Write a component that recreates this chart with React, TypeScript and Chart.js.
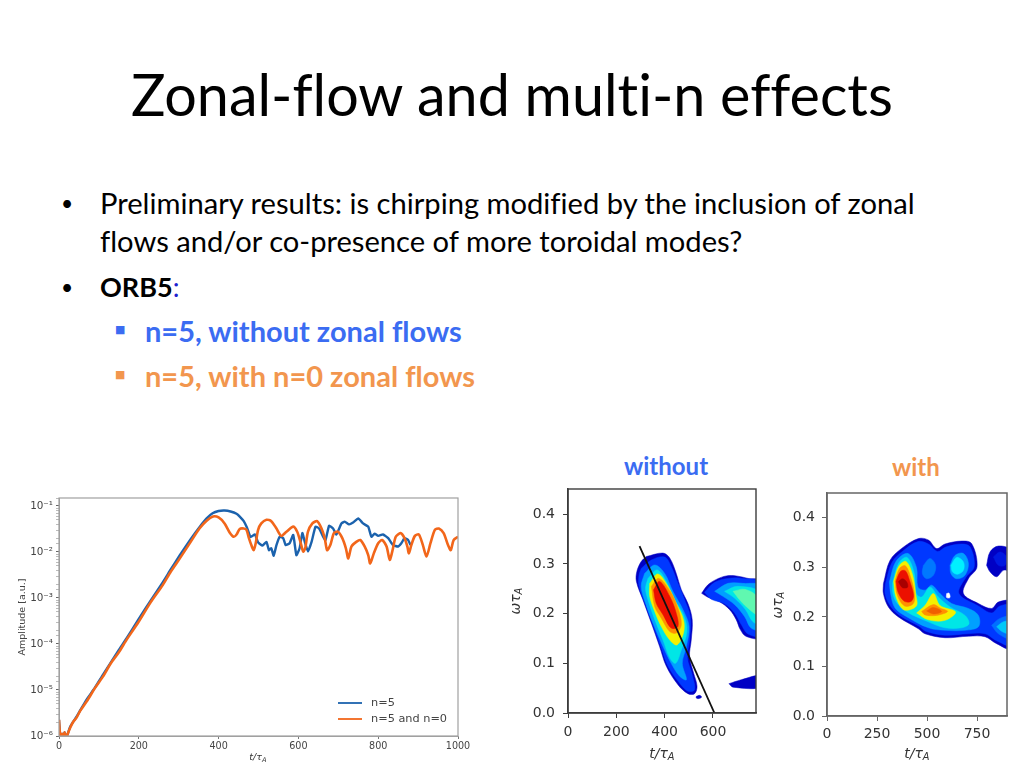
import React, { useEffect, useRef } from "react";
import { Chart, registerables } from "chart.js";

Chart.register(...registerables);

// ---------- tick labels ----------
const ampTimeTicks = [0, 200, 400, 600, 800, 1000];
const withoutTimeTicks = [0, 200, 400, 600];
const withTimeTicks = [0, 250, 500, 750];
const omegaTicks = [0, 0.1, 0.2, 0.3, 0.4];

// ---------- amplitude panel data (t/tau_A, log10 amplitude) ----------
const growthTimes = [0, 2, 5, 8, 11, 14, 18, 22, 28, 35, 44, 52, 70, 90, 110, 130, 150, 170, 198, 230, 260, 280, 302, 330, 352, 370];
const growthLogBlue = [-5.65, -5.9, -6.05, -5.95, -6.05, -5.92, -6.05, -5.95, -5.8, -5.7, -5.58, -5.46, -5.2, -4.95, -4.67, -4.4, -4.13, -3.87, -3.48, -3.05, -2.66, -2.38, -2.08, -1.72, -1.46, -1.27];
const growthLogOrange = [-5.65, -5.9, -6.05, -5.95, -6.05, -5.92, -6.05, -5.95, -5.82, -5.7, -5.6, -5.47, -5.24, -4.96, -4.71, -4.42, -4.18, -3.9, -3.54, -3.09, -2.72, -2.43, -2.15, -1.78, -1.49, -1.32];

const blueTimes = [385, 400, 415, 430, 445, 453, 463, 471, 480, 491, 499, 510, 520, 526, 532, 538, 545, 553, 562, 568, 578, 587, 595, 603, 610, 616, 624, 633, 643, 652, 662, 668, 677, 687, 695, 708, 716, 727, 737, 750, 762, 775, 783, 791, 800, 812, 825, 837, 850, 858, 866, 875, 881];
const blueLog = [-1.16, -1.11, -1.1, -1.12, -1.17, -1.23, -1.33, -1.47, -1.67, -1.62, -1.79, -1.86, -1.78, -1.96, -1.92, -2.08, -1.85, -1.67, -1.7, -1.85, -1.81, -1.63, -2.07, -1.92, -1.59, -1.78, -1.99, -1.78, -1.45, -1.49, -1.67, -1.74, -1.43, -1.49, -1.62, -1.38, -1.34, -1.4, -1.36, -1.27, -1.38, -1.45, -1.67, -1.6, -1.65, -1.62, -1.7, -1.85, -1.88, -1.81, -1.7, -1.74, -1.85];

const orangeTimes = [386, 400, 415, 428, 438, 445, 453, 463, 470, 476, 482, 488, 493, 499, 507, 520, 532, 545, 557, 570, 587, 597, 605, 612, 617, 624, 635, 647, 658, 666, 672, 680, 689, 699, 710, 719, 725, 733, 745, 755, 766, 775, 780, 789, 800, 810, 821, 829, 836, 844, 856, 866, 873, 877, 883, 892, 902, 912, 921, 931, 942, 952, 964, 975, 982, 989, 1000];
const orangeLog = [-1.23, -1.25, -1.38, -1.58, -1.67, -1.62, -1.5, -1.49, -1.52, -1.7, -1.85, -1.96, -1.81, -1.52, -1.38, -1.3, -1.33, -1.49, -1.65, -1.56, -1.45, -1.56, -1.78, -1.99, -1.92, -1.56, -1.38, -1.33, -1.49, -1.7, -1.96, -1.85, -1.59, -1.56, -1.7, -1.92, -2.14, -1.88, -1.78, -1.74, -1.88, -2.07, -2.25, -2.03, -1.81, -1.74, -1.88, -2.17, -1.96, -1.67, -1.59, -1.7, -1.88, -2.03, -1.85, -1.65, -1.62, -1.85, -2.1, -1.81, -1.52, -1.49, -1.59, -1.85, -1.96, -1.74, -1.67];

// ---------- spectrogram "without" contours (t, omega) ----------
const woMain0 = [[324,.315],[393,.322],[421,.312],[448,.281],[469,.248],[496,.221],[514,.188],[510,.147],[503,.114],[520,.08],[534,.054],[524,.039],[496,.039],[455,.057],[407,.094],[379,.134],[345,.181],[310,.228],[283,.265],[285,.285],[303,.305]];
const woMain1 = [[303,.291],[345,.308],[400,.314],[427,.295],[455,.261],[480,.231],[506,.194],[503,.147],[494,.111],[514,.077],[524,.047],[496,.044],[462,.06],[414,.094],[386,.131],[354,.174],[321,.218],[294,.255],[294,.278]];
const woMain2 = [[317,.281],[359,.298],[400,.281],[434,.245],[476,.208],[501,.174],[490,.134],[473,.1],[490,.067],[462,.074],[427,.1],[393,.134],[354,.178],[321,.221],[303,.255]];
const woMain3 = [[331,.271],[369,.288],[407,.265],[441,.228],[478,.198],[492,.164],[469,.127],[445,.1],[421,.111],[393,.147],[359,.188],[331,.228],[321,.251]];
const woMain4 = [[338,.261],[372,.28],[414,.255],[448,.221],[478,.188],[478,.161],[451,.137],[421,.147],[386,.174],[359,.204],[338,.235]];
const woMain5 = [[345,.255],[376,.271],[423,.245],[455,.211],[469,.178],[448,.161],[421,.164],[386,.191],[359,.214]];
const woMain6 = [[354,.248],[379,.265],[421,.235],[448,.201],[455,.174],[427,.171],[393,.198],[365,.221]];
const woDot = [[531,.0335],[545,.0355],[553,.032],[542,.029],[531,.03]];
const woRight0 = [[553,.241],[579,.258],[614,.269],[655,.276],[696,.276],[745,.271],[800,.265],[800,.153],[738,.154],[713,.168],[696,.188],[669,.208],[627,.224],[579,.233]];
const woRight1 = [[565,.243],[607,.263],[662,.271],[724,.271],[800,.261],[800,.157],[745,.159],[717,.178],[690,.201],[648,.22],[593,.229]];
const woRight2 = [[607,.245],[662,.261],[724,.261],[800,.255],[800,.168],[758,.171],[731,.194],[690,.218],[641,.235]];
const woRight3 = [[648,.245],[703,.255],[800,.241],[800,.178],[765,.184],[735,.208],[690,.231]];
const woRight4 = [[683,.245],[731,.249],[782,.234],[786,.198],[752,.208],[710,.228]];
const woBar = [[666,.059],[717,.067],[800,.075],[800,.052],[683,.052]];
const chirpLine = [[296,.336],[606,0]];

// ---------- spectrogram "with" contours (t, omega) ----------
const wMain0 = [[282,.267],[315,.314],[373,.338],[457,.358],[507,.355],[548,.338],[590,.347],[673,.353],[723,.348],[750,.301],[707,.277],[682,.247],[757,.227],[823,.217],[857,.23],[923,.23],[923,.136],[848,.146],[790,.16],[707,.161],[590,.158],[490,.166],[457,.176],[357,.2],[307,.22],[282,.247]];
const wMain1 = [[292,.267],[325,.31],[380,.333],[455,.352],[507,.347],[552,.332],[594,.341],[673,.347],[716,.341],[736,.301],[695,.28],[660,.247],[757,.222],[823,.208],[865,.222],[923,.222],[923,.143],[848,.152],[790,.166],[707,.166],[590,.163],[494,.171],[461,.181],[360,.204],[312,.225],[290,.247]];
const wMain2 = [[312,.271],[345,.312],[405,.328],[447,.3],[455,.26],[490,.254],[523,.264],[565,.247],[623,.227],[707,.217],[757,.203],[757,.18],[690,.173],[590,.173],[507,.178],[400,.2],[340,.218],[318,.247]];
const wSpot = [[482,.304],[515,.318],[543,.304],[532,.284],[498,.277],[477,.287]];
const wLobe2 = [[615,.304],[640,.324],[682,.328],[707,.308],[690,.284],[648,.277],[620,.287]];
const wLobe3 = [[620,.304],[648,.32],[682,.311],[682,.294],[653,.286],[627,.291]];
const wLow2 = [[823,.183],[865,.197],[923,.2],[923,.156],[857,.166]];
const wLow3 = [[848,.18],[882,.19],[923,.19],[923,.166],[877,.17]];
const wFar0 = [[798,.304],[815,.331],[857,.343],[923,.334],[923,.294],[882,.294],[848,.281],[815,.291]];
const wFar1 = [[832,.321],[865,.331],[898,.321],[890,.304],[857,.304]];
const wMain3 = [[328,.268],[358,.308],[400,.32],[436,.288],[446,.247],[473,.24],[515,.26],[557,.24],[615,.22],[690,.203],[710,.186],[673,.178],[590,.178],[507,.19],[400,.21],[350,.228],[330,.247]];
const wLeft4 = [[333,.272],[360,.303],[395,.312],[428,.285],[444,.245],[447,.222],[385,.214],[345,.24]];
const wLeft5 = [[340,.272],[363,.298],[392,.303],[420,.278],[438,.243],[430,.226],[388,.222],[352,.243]];
const wLeft6 = [[345,.272],[368,.292],[392,.293],[414,.272],[433,.243],[420,.231],[385,.232],[355,.25]];
const wLeft7 = [[357,.271],[377,.277],[398,.271],[403,.26],[377,.259]];
const wLow4 = [[448,.208],[490,.223],[532,.247],[565,.223],[643,.21],[590,.193],[507,.194]];
const wLow5 = [[473,.211],[532,.225],[565,.218],[603,.211],[548,.203],[490,.204]];
const wLow6 = [[498,.212],[532,.219],[573,.211],[532,.206]];
const wSpeck = [[598,.247],[610,.248],[615,.239],[598,.239]];

const JET = ["#0000c4", "#0038ff", "#00a0ff", "#00e6e6", "#f4f000", "#ff9000", "#ec1000", "#a80000"];
const GREEN = "#60f8b0";

const withoutLayers: [number[][], string][] = [
  [woMain0, JET[0]], [woMain1, JET[1]], [woMain2, JET[2]], [woMain3, JET[3]], [woMain4, JET[4]], [woMain5, JET[5]], [woMain6, JET[6]],
  [woDot, JET[0]], [woRight0, JET[0]], [woRight1, JET[1]], [woRight2, JET[2]], [woRight3, JET[3]], [woRight4, GREEN], [woBar, JET[0]],
];
const withLayers: [number[][], string][] = [
  [wMain0, JET[0]], [wFar0, JET[0]], [wFar1, "#0018e0"], [wMain1, JET[1]], [wSpot, "#0078ff"], [wLobe2, JET[2]], [wLobe3, "#00f0ff"],
  [wLow2, "#0070ff"], [wLow3, "#00c8f8"], [wMain2, JET[2]], [wMain3, JET[3]], [wLeft4, JET[4]], [wLeft5, JET[5]], [wLeft6, JET[6]],
  [wLeft7, JET[7]], [wLow4, JET[4]], [wLow5, JET[5]], [wLow6, "#f06000"], [wSpeck, "#ffffff"],
];

const AXIS_FONT = "'DejaVu Sans'";
const SUP: Record<string, string> = { "-": "⁻", "0": "⁰", "1": "¹", "2": "²", "3": "³", "4": "⁴", "5": "⁵", "6": "⁶" };
const toSup = (n: number) => String(n).split("").map((c) => SUP[c]).join("");

const zip = (ts: number[], ls: number[]) => ts.map((t, i) => ({ x: t, y: Math.pow(10, ls[i]) }));
const fixedTicks = (values: number[]) => (s: any) => { s.ticks = values.map((value) => ({ value })); };
const fitBox = (w: number | null, h: number | null) => (s: any) => {
  if (w !== null) s.width = w;
  if (h !== null) s.height = h;
  s.paddingTop = 0;
  s.paddingBottom = 0;
  s.paddingLeft = 0;
  s.paddingRight = 0;
};

const framePlugin = (color: string, width: number) => ({
  id: "frame",
  beforeDatasetsDraw(c: any) {
    const { ctx, chartArea: a } = c;
    ctx.save();
    ctx.beginPath();
    ctx.rect(a.left, a.top, a.right - a.left, a.bottom - a.top);
    ctx.clip();
  },
  afterDatasetsDraw(c: any) {
    const { ctx, chartArea: a } = c;
    ctx.restore();
    ctx.save();
    ctx.strokeStyle = color;
    ctx.lineWidth = width;
    ctx.strokeRect(a.left, a.top, a.right - a.left, a.bottom - a.top);
    ctx.restore();
  },
});

const mathTitle = (spec: { size: number; prefix: string; cx: number; cy: number; rotate?: boolean }[]) => ({
  id: "mathTitle",
  afterDraw(c: any) {
    const { ctx } = c;
    for (const s of spec) {
      ctx.save();
      ctx.translate(s.cx, s.cy);
      if (s.rotate) ctx.rotate(-Math.PI / 2);
      ctx.fillStyle = "#333";
      ctx.textBaseline = "middle";
      ctx.textAlign = "left";
      ctx.font = `italic ${s.size}px ${AXIS_FONT}`;
      const w1 = ctx.measureText(s.prefix).width;
      const subFont = `italic ${s.size * 0.7}px ${AXIS_FONT}`;
      ctx.fillText(s.prefix, -(w1 + s.size * 0.5) / 2, 0);
      ctx.font = subFont;
      ctx.fillText("A", -(w1 + s.size * 0.5) / 2 + w1, s.size * 0.28);
      ctx.restore();
    }
  },
});

const legendPlugin = {
  id: "cornerLegend",
  afterDraw(c: any) {
    const { ctx, chartArea: a } = c;
    ctx.save();
    ctx.font = `11.3px ${AXIS_FONT}`;
    ctx.textBaseline = "middle";
    c.data.datasets.forEach((d: any, i: number) => {
      const y = a.bottom - 33 + i * 16;
      ctx.strokeStyle = d.borderColor;
      ctx.lineWidth = 1.8;
      ctx.beginPath();
      ctx.moveTo(a.right - 120, y);
      ctx.lineTo(a.right - 96, y);
      ctx.stroke();
      ctx.fillStyle = "#444";
      ctx.fillText(d.label, a.right - 87, y);
    });
    ctx.restore();
  },
};

function contourConfig(layers: [number[][], string][], xMax: number, yMax: number, xTicks: number[], leftW: number, bottomH: number, padding: any, color: string, xPad: number, yPad: number, extra: any[], plugins: any[]) {
  const datasets: any[] = layers.map(([pts, col], i) => ({
    data: [...pts, pts[0]].map(([x, y]) => ({ x, y })),
    showLine: true,
    fill: "shape",
    backgroundColor: col,
    borderColor: col,
    borderWidth: 0.5,
    tension: 0.35,
    pointRadius: 0,
    order: -i,
  }));
  return {
    type: "scatter",
    data: { datasets: [...datasets, ...extra] },
    plugins,
    options: {
      animation: false,
      responsive: false,
      layout: { padding },
      events: [],
      plugins: { legend: { display: false }, tooltip: { enabled: false } },
      elements: { line: { capBezierPoints: false } },
      scales: {
        x: {
          type: "linear", min: 0, max: xMax,
          afterBuildTicks: fixedTicks(xTicks),
          border: { color, width: 1.5 },
          grid: { drawOnChartArea: false, tickLength: 5, tickColor: color },
          ticks: { maxRotation: 0, padding: xPad, color: "#333", font: { family: AXIS_FONT, size: 14 } },
          afterFit: fitBox(null, bottomH),
        },
        y: {
          type: "linear", min: 0, max: yMax,
          afterBuildTicks: fixedTicks(omegaTicks),
          border: { color, width: 1.5 },
          grid: { drawOnChartArea: false, tickLength: 5, tickColor: color },
          ticks: { padding: yPad, color: "#333", font: { family: AXIS_FONT, size: 14 }, callback: (v: number) => v.toFixed(1) },
          afterFit: fitBox(leftW, null),
        },
      },
    },
  };
}

function useChart(make: () => any) {
  const ref = useRef<HTMLCanvasElement>(null);
  useEffect(() => {
    const chart = new Chart(ref.current as HTMLCanvasElement, make());
    return () => chart.destroy();
  }, []);
  return ref;
}

const canvasStyle = (left: number, top: number): React.CSSProperties => ({ position: "absolute", left, top, filter: "blur(0.7px)" });

const BODY_FONT = "Lato, 'Noto Sans', sans-serif";
const BLUE = "#3b6cf2";
const ORANGE = "#f2964e";

function Txt(p: { x: number; y: number; size: number; bold?: boolean; color?: string; ls?: number; children: React.ReactNode; font?: string }) {
  return (
    <div style={{ position: "absolute", left: p.x, top: p.y, fontFamily: p.font ?? BODY_FONT, fontSize: p.size, fontWeight: p.bold ? 700 : 400, color: p.color ?? "#000", letterSpacing: p.ls ?? 0, whiteSpace: "nowrap", lineHeight: "40px", height: 40, fontVariantLigatures: "none" }}>
      {p.children}
    </div>
  );
}

export default function App() {
  const ampRef = useChart(() => ({
    type: "scatter",
    data: {
      datasets: [
        { label: "n=5", data: [...zip(growthTimes, growthLogBlue), ...zip(blueTimes, blueLog)], showLine: true, borderColor: "#1b62ad", backgroundColor: "#1b62ad", borderWidth: 2.4, pointRadius: 0, tension: 0.15, order: 1 },
        { label: "n=5 and n=0", data: [...zip(growthTimes, growthLogOrange), ...zip(orangeTimes, orangeLog)], showLine: true, borderColor: "#f2661a", backgroundColor: "#f2661a", borderWidth: 2.6, pointRadius: 0, tension: 0.25, order: 0 },
      ],
    },
    plugins: [framePlugin("#a0a0a0", 1.2), legendPlugin, mathTitle([{ size: 9.5, prefix: "t/τ", cx: 258, cy: 268 }])],
    options: {
      animation: false,
      responsive: false,
      events: [],
      layout: { padding: { top: 8, right: 22, left: 0, bottom: 0 } },
      plugins: { legend: { display: false }, tooltip: { enabled: false } },
      scales: {
        x: {
          type: "linear", min: 0, max: 1000,
          afterBuildTicks: fixedTicks(ampTimeTicks),
          border: { color: "#a0a0a0" },
          grid: { drawOnChartArea: false, tickLength: 3, tickColor: "#777" },
          ticks: { maxRotation: 0, padding: 2, color: "#444", font: { family: AXIS_FONT, size: 9.6 }, callback: (v: number) => String(v) },
          afterFit: fitBox(null, 32),
        },
        y: {
          type: "logarithmic", min: 1e-6, max: 0.149,
          border: { color: "#a0a0a0" },
          title: { display: true, text: "Amplitude [a.u.]", color: "#444", font: { family: AXIS_FONT, size: 9.5 }, padding: { top: 17, bottom: 0 } },
          grid: { drawOnChartArea: false, tickLength: 3, tickColor: (ctx: any) => (Number.isInteger(Math.round(Math.log10(ctx.tick.value) * 1000) / 1000) ? "#666" : "#bbb") },
          ticks: {
            autoSkip: false, padding: 3, color: "#444", font: { family: AXIS_FONT, size: 10.4 },
            callback: (v: number) => {
              const e = Math.log10(v);
              return Math.abs(e - Math.round(e)) < 1e-6 ? "10" + toSup(Math.round(e)) : "";
            },
          },
          afterFit: fitBox(59, null),
        },
      },
    },
  }));

  const withoutRef = useChart(() =>
    contourConfig(withoutLayers, 778, 0.451, withoutTimeTicks, 68, 55, { top: 9, right: 9, left: 0, bottom: 0 }, "#3c3c3c", 6, 8,
      [{ data: chirpLine.map(([x, y]) => ({ x, y })), showLine: true, borderColor: "#111", borderWidth: 1.8, pointRadius: 0, order: -100 }],
      [framePlugin("#3c3c3c", 1.4), mathTitle([{ size: 14, prefix: "t/τ", cx: 162, cy: 274 }, { size: 14, prefix: "ωτ", cx: 16, cy: 121, rotate: true }])]
    )
  );

  const withRef = useChart(() =>
    contourConfig(withLayers, 900, 0.45, withTimeTicks, 62, 52, { top: 13, right: 17, left: 0, bottom: 0 }, "#666", 5, 7,
      [],
      [framePlugin("#666", 1.5), mathTitle([{ size: 14, prefix: "t/τ", cx: 152, cy: 274 }, { size: 14, prefix: "ωτ", cx: 13, cy: 125, rotate: true }])]
    )
  );

  return (
    <div style={{ position: "absolute", left: 0, top: 0, width: 1024, height: 768, overflow: "hidden", background: "#fff" }}>
      <Txt x={131} y={74} size={57.5}>Zonal-flow and multi-n effects</Txt>
      <Txt x={61} y={183} size={21}>•</Txt>
      <Txt x={100} y={183} size={29.15}>Preliminary results: is chirping modified by the inclusion of zonal</Txt>
      <Txt x={100} y={221} size={29.15}>flows and/or co-presence of more toroidal modes?</Txt>
      <Txt x={61} y={267} size={21}>•</Txt>
      <Txt x={100} y={267} size={27}>
        <b>ORB5</b><span style={{ color: "#2020d0" }}>:</span>
      </Txt>
      <Txt x={115} y={310} size={11} color={BLUE} font="'DejaVu Sans'">■</Txt>
      <Txt x={145} y={311} size={29} bold color={BLUE}>n=5, without zonal flows</Txt>
      <Txt x={115} y={355} size={11} color={ORANGE} font="'DejaVu Sans'">■</Txt>
      <Txt x={145} y={356} size={29} bold color={ORANGE}>n=5, with n=0 zonal flows</Txt>
      <Txt x={624} y={446} size={24} bold color={BLUE}>without</Txt>
      <Txt x={892} y={447} size={24} bold color={ORANGE}>with</Txt>
      <canvas ref={ampRef} width={480} height={278} style={canvasStyle(0, 490)} />
      <canvas ref={withoutRef} width={265} height={288} style={canvasStyle(500, 480)} />
      <canvas ref={withRef} width={259} height={288} style={canvasStyle(765, 480)} />
    </div>
  );
}
